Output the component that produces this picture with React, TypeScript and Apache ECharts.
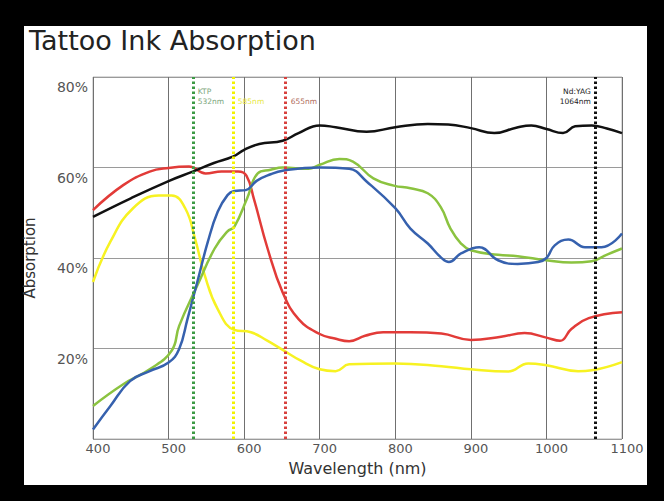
import React, { useEffect, useRef } from "react";
import * as echarts from "echarts";

const xTicks = [400, 500, 600, 700, 800, 900, 1000, 1100];
const yTicks = [0, 20, 40, 60, 80];

const blackNm = [400, 450, 500, 532, 560, 585, 600, 620, 651, 672, 700, 721, 762, 800, 843, 870, 900, 931, 960, 980, 1000, 1022, 1038, 1060, 1080, 1100];
const blackAbs = [49.1, 53.2, 57.0, 59.1, 61.0, 62.4, 63.9, 65.2, 65.9, 67.6, 69.3, 68.9, 67.9, 68.9, 69.6, 69.5, 68.7, 67.6, 68.8, 69.3, 68.5, 67.6, 69.1, 69.3, 68.6, 67.6];

const redNm = [400, 440, 475, 500, 527, 549, 570, 592, 603, 613, 631, 651, 672, 700, 720, 739, 760, 784, 820, 861, 900, 940, 971, 1000, 1018, 1033, 1056, 1100];
const redAbs = [50.6, 56.1, 59.1, 59.9, 60.2, 58.7, 59.1, 59.1, 58.2, 53.0, 42.1, 32.4, 26.5, 23.2, 22.2, 21.6, 22.8, 23.6, 23.6, 23.3, 21.9, 22.6, 23.4, 22.4, 21.7, 24.3, 26.7, 28.0];

const yellowNm = [400, 423, 453, 487, 504, 522, 535, 548, 565, 587, 609, 630, 651, 675, 700, 721, 739, 800, 861, 900, 949, 976, 1000, 1042, 1060, 1100];
const yellowAbs = [34.7, 43.6, 51.0, 53.8, 53.8, 51.0, 44.3, 36.1, 28.7, 24.1, 23.6, 21.8, 19.7, 17.3, 15.4, 15.0, 16.5, 16.7, 16.1, 15.4, 14.9, 16.7, 16.3, 15.0, 15.2, 17.0];

const blueNm = [400, 423, 449, 475, 500, 514, 525, 538, 552, 565, 578, 587, 602, 617, 635, 651, 700, 739, 762, 800, 820, 843, 860, 871, 887, 911, 936, 962, 989, 1000, 1011, 1029, 1051, 1073, 1100];
const blueAbs = [2.1, 7.3, 12.8, 15.0, 16.9, 19.9, 26.5, 34.7, 43.6, 50.2, 53.9, 54.8, 55.0, 57.1, 58.5, 59.3, 60.0, 59.7, 56.9, 51.0, 46.5, 43.2, 40.2, 39.1, 41.0, 42.4, 39.5, 38.7, 39.1, 40.0, 42.8, 44.1, 42.4, 42.4, 45.4];

const greenNm = [400, 440, 475, 504, 514, 538, 561, 578, 587, 604, 618, 635, 651, 685, 700, 726, 744, 771, 798, 820, 843, 860, 873, 887, 900, 936, 962, 1000, 1033, 1060, 1078, 1100];
const greenAbs = [7.3, 12.1, 15.4, 19.5, 25.0, 33.9, 42.1, 45.9, 46.9, 53.2, 58.7, 59.5, 60.0, 59.7, 60.6, 61.9, 61.3, 57.6, 56.0, 55.4, 54.3, 51.3, 46.5, 43.2, 41.7, 40.7, 40.4, 39.5, 39.0, 39.3, 40.6, 42.1];

const laserNm = [532, 585, 655, 1064];
const laserLabels = ["KTP\n532nm", "585nm", "655nm", "Nd:YAG\n1064nm"];
const laserColors = ["#3c9a44", "#f2f200", "#d8413e", "#111111"];
const laserTextColors = ["#7aa57a", "#e8e840", "#b06a5a", "#222222"];

const zip = (xs: number[], ys: number[]) => xs.map((x, i) => [x, ys[i]]);

export default function App() {
  const ref = useRef<HTMLDivElement>(null);
  useEffect(() => {
    if (!ref.current) return;
    const chart = echarts.init(ref.current, null, { renderer: "svg" });
    const curve = (name: string, xs: number[], ys: number[], color: string, z = 3) => ({
      name,
      type: "line",
      data: zip(xs, ys),
      smooth: 0.45,
      symbol: "none",
      z,
      lineStyle: { color, width: 2.5 },
    });
    chart.setOption({
      animation: false,
      title: {
        text: "Tattoo Ink Absorption",
        left: 24,
        top: 22,
        textStyle: { fontFamily: "DejaVu Sans", fontSize: 27, fontWeight: "normal", color: "#222" },
      },
      grid: {
        left: 93,
        right: 42,
        top: 77,
        bottom: 62,
        show: true,
        borderColor: "#b5b5b5",
        borderWidth: 1,
        containLabel: false,
      },
      xAxis: {
        type: "value",
        min: xTicks[0],
        max: xTicks[xTicks.length - 1],
        interval: 100,
        name: "Wavelength (nm)",
        nameLocation: "middle",
        nameGap: 21,
        nameTextStyle: { fontFamily: "DejaVu Sans", fontSize: 16, color: "#333" },
        axisLine: { show: false },
        axisTick: { show: false },
        axisLabel: {
          fontFamily: "DejaVu Sans",
          fontSize: 13,
          color: "#555",
          margin: 3,
          padding: [0, 0, 0, 10],
          showMaxLabel: true,
          showMinLabel: true,
          formatter: (v: number) => String(v),
        },
        splitLine: { show: true, lineStyle: { color: "#707070", width: 1 } },
      },
      yAxis: {
        type: "value",
        min: yTicks[0],
        max: yTicks[yTicks.length - 1],
        interval: 20,
        name: "Absorption",
        nameLocation: "middle",
        nameRotate: 90,
        nameGap: 56,
        nameTextStyle: { fontFamily: "DejaVu Sans", fontSize: 15, color: "#333" },
        axisLine: { show: false },
        axisTick: { show: false },
        axisLabel: {
          fontFamily: "DejaVu Sans",
          fontSize: 14,
          color: "#555",
          margin: 5,
          verticalAlign: "top",
          lineHeight: 20,
          formatter: (v: number) => (v === 0 ? "" : `${v}%`),
        },
        splitLine: { show: true, lineStyle: { color: "#9a9a9a", width: 1 } },
      },
      series: [
        {
          name: "lasers",
          type: "line",
          data: [],
          z: 2,
          markLine: {
            silent: true,
            symbol: "none",
            label: { show: false },
            data: laserNm.map((nm, i) => ({
              xAxis: nm,
              lineStyle: { color: laserColors[i], width: 3, type: [2.5, 2.5], opacity: 1 },
            })),
          },
        },
        curve("Yellow", yellowNm, yellowAbs, "#f7f222"),
        curve("Red", redNm, redAbs, "#e23b38"),
        curve("Green", greenNm, greenAbs, "#8bc340"),
        curve("Blue", blueNm, blueAbs, "#3661ae"),
        curve("Black", blackNm, blackAbs, "#111111"),
      ],
    });
    const topY = chart.convertToPixel({ yAxisIndex: 0 }, yTicks[yTicks.length - 1]) as number;
    const graphic = laserNm.map((nm, i) => {
      const px = chart.convertToPixel({ xAxisIndex: 0 }, nm) as number;
      const twoLine = laserLabels[i].includes("\n");
      const right = i === laserNm.length - 1;
      return {
        type: "text",
        x: right ? px - 4 : px + 5,
        y: topY + (twoLine ? 9 : 19),
        silent: true,
        style: {
          text: laserLabels[i],
          fill: laserTextColors[i],
          fontFamily: "DejaVu Sans",
          fontSize: 7.5,
          lineHeight: 10,
          align: right ? "right" : "left",
          textAlign: right ? "right" : "left",
          verticalAlign: "top",
        },
      };
    });
    chart.setOption({ graphic });
    return () => chart.dispose();
  }, []);
  return (
    <div style={{ position: "fixed", left: 0, top: 0, width: 664, height: 501, background: "#000" }}>
      <div style={{ position: "absolute", left: 24, top: 26, width: 623, height: 459, background: "#fff" }} />
      <div ref={ref} style={{ position: "absolute", left: 0, top: 0, width: 664, height: 501 }} />
    </div>
  );
}
